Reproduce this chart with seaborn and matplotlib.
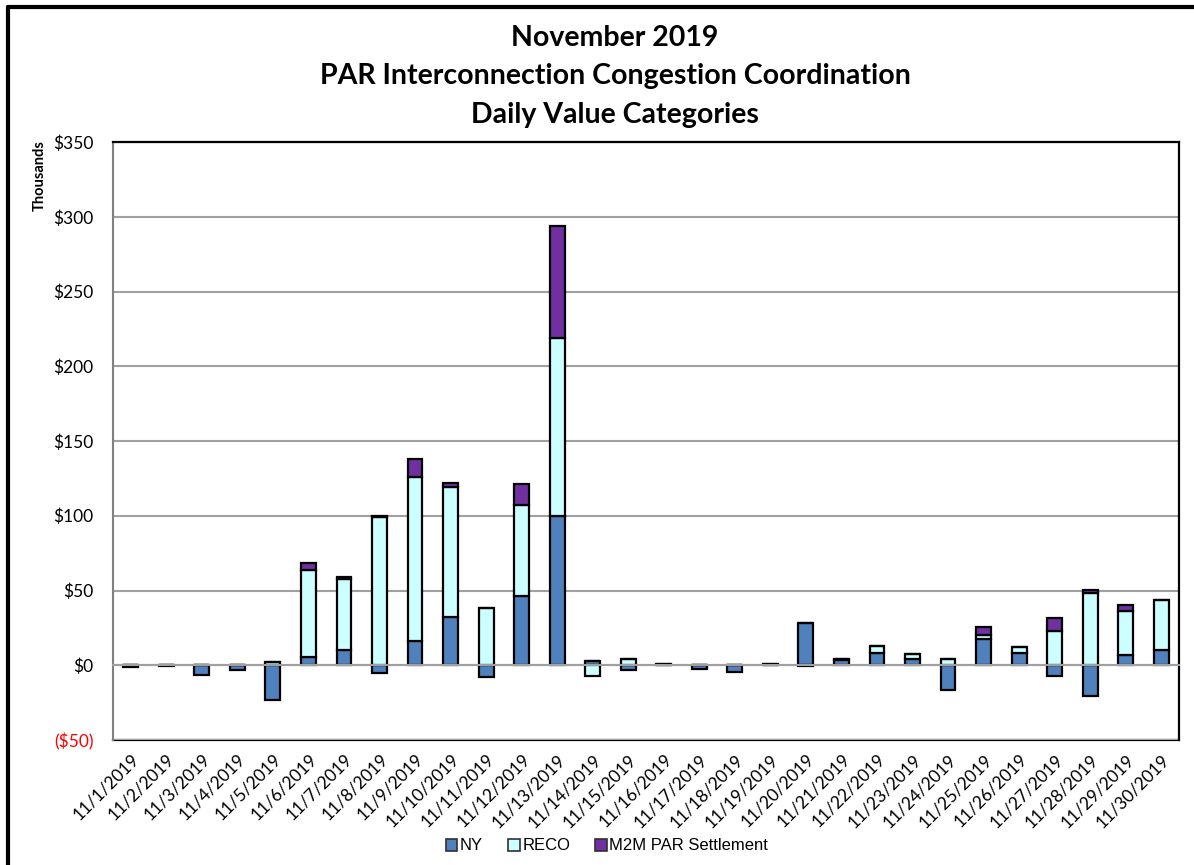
import numpy as np
import pandas as pd
import seaborn as sns
import matplotlib
matplotlib.use('Agg')
import matplotlib.pyplot as plt
from matplotlib.lines import Line2D
from matplotlib.patches import Patch
from matplotlib.ticker import FuncFormatter

# daily values, $ thousands
days = ["11/%d/2019" % d for d in range(1, 31)]
ny = [-1.5, -0.5, -6.5, -3.0, -23.0, 5.5, 10.0, -5.0, 16.0, 32.0,
      -8.0, 46.0, 100.0, 3.0, -3.0, 0.5, -2.5, -4.5, 0.5, 28.0,
      3.5, 8.0, 4.0, -16.5, 17.5, 8.0, -7.0, -20.5, 7.0, 10.5]
reco = [0.3, 0.2, 0.5, 0.3, 2.0, 58.5, 48.0, 99.0, 110.0, 87.5,
        38.0, 61.0, 119.0, -7.5, 4.0, 0.3, 0.5, 0.5, 0.3, -0.5,
        0.5, 5.0, 3.5, 4.0, 3.0, 4.5, 23.0, 48.0, 29.5, 33.0]
m2m = [0.0, 0.0, 0.0, 0.0, 0.0, 4.5, 1.0, 0.5, 12.0, 2.5,
       0.0, 14.0, 75.0, 0.0, 0.0, 0.0, 0.0, 0.0, 0.0, 0.0,
       0.3, 0.0, 0.0, 0.0, 5.0, 0.0, 8.5, 2.5, 4.0, 0.3]

series = [("NY", ny, "#4F81BD"), ("RECO", reco, "#CCFFFF"),
          ("M2M PAR Settlement", m2m, "#7030A0")]

sns.set_style("white")
plt.rcParams['font.family'] = ['Lato', 'DejaVu Sans']
plt.rcParams['text.color'] = 'black'
plt.rcParams['xtick.labelcolor'] = 'black'
plt.rcParams['ytick.labelcolor'] = 'black'

fig = plt.figure(figsize=(11.94, 8.65), dpi=100)
ax = fig.add_axes([113/1194, 1-740/865, (1179-113)/1194, (740-142)/865])

# excel style stacking: positives up from 0, negatives down from 0
pos = np.zeros(len(days))
neg = np.zeros(len(days))
for name, vals, col in series:
    v = np.array(vals)
    bot = np.where(v >= 0, pos, neg)
    df = pd.DataFrame({"day": days, "val": v})
    sns.barplot(data=df, x="day", y="val", bottom=bot, color=col, width=0.42,
                edgecolor="black", linewidth=1.6, saturation=1, ax=ax)
    pos = pos + np.clip(v, 0, None)
    neg = neg + np.clip(v, None, 0)

ax.set_xlim(-0.5, len(days)-0.5)
ax.set_ylim(-50, 350)
ax.set_yticks(range(-50, 351, 50))
ax.yaxis.set_major_formatter(FuncFormatter(lambda v, p: "($%d)" % -v if v < 0 else "$%d" % v))
ax.yaxis.grid(True, color="#A0A0A0", linewidth=1.5)
ax.set_axisbelow(True)
ax.tick_params(axis='y', length=6, color="#808080", width=1.5, labelsize=12.5, pad=8, labelcolor='black')
for t in ax.get_yticklabels():
    if t.get_text().startswith("("):
        t.set_color("red")
ax.set_xlabel("")
ax.set_ylabel("")

# x axis line at zero with ticks between categories
ax.spines['bottom'].set_position(('data', 0))
ax.spines['bottom'].set_color("#A0A0A0")
ax.spines['bottom'].set_linewidth(1.5)
ax.set_xticks(np.arange(0.5, len(days)-1, 1.0))
ax.set_xticklabels([])
ax.tick_params(axis='x', direction='out', length=6, color="#A0A0A0", width=1.5)
ax.spines['left'].set_color("#808080")
ax.spines['left'].set_linewidth(1.5)
for s in ['top', 'right']:
    ax.spines[s].set_visible(True)
    ax.spines[s].set_color("black")
    ax.spines[s].set_linewidth(1.6)

sec = ax.secondary_xaxis(0.0)
sec.set_xticks(range(len(days)))
sec.set_xticklabels(days, rotation=45, ha='right', rotation_mode='anchor', fontsize=12.5, color='black')
sec.tick_params(length=0, pad=8)
sec.spines['bottom'].set_color("black")
sec.spines['bottom'].set_linewidth(1.6)

fig.text(40/1194, 1-176/865, "Thousands", rotation=90, ha='center', va='center',
         fontsize=10.5, fontweight='bold', color='black')

title_kw = dict(ha='center', va='center', fontsize=20.5, fontweight='bold', color='black')
fig.text(615/1194, 1-38/865, "November 2019", **title_kw)
fig.text(615/1194, 1-76/865, "PAR Interconnection Congestion Coordination", **title_kw)
fig.text(615/1194, 1-115/865, "Daily Value Categories", **title_kw)

handles = [Patch(facecolor=c, edgecolor="#303030", linewidth=1.2, label=n) for n, _, c in series]
fig.legend(handles=handles, loc='center', bbox_to_anchor=(607/1194, 1-846/865), ncol=3, frameon=False,
           prop={'family': 'Liberation Sans', 'size': 12}, handlelength=0.7, handleheight=0.7,
           handletextpad=0.15, columnspacing=1.5, labelcolor='black')

# outer chart border
fig.add_artist(Line2D([8/1194, 8/1194], [0, 1-7/865], color='black', linewidth=3, transform=fig.transFigure))
fig.add_artist(Line2D([8/1194, 1], [1-7/865, 1-7/865], color='black', linewidth=3, transform=fig.transFigure))

fig.savefig("out.png", dpi=100)
